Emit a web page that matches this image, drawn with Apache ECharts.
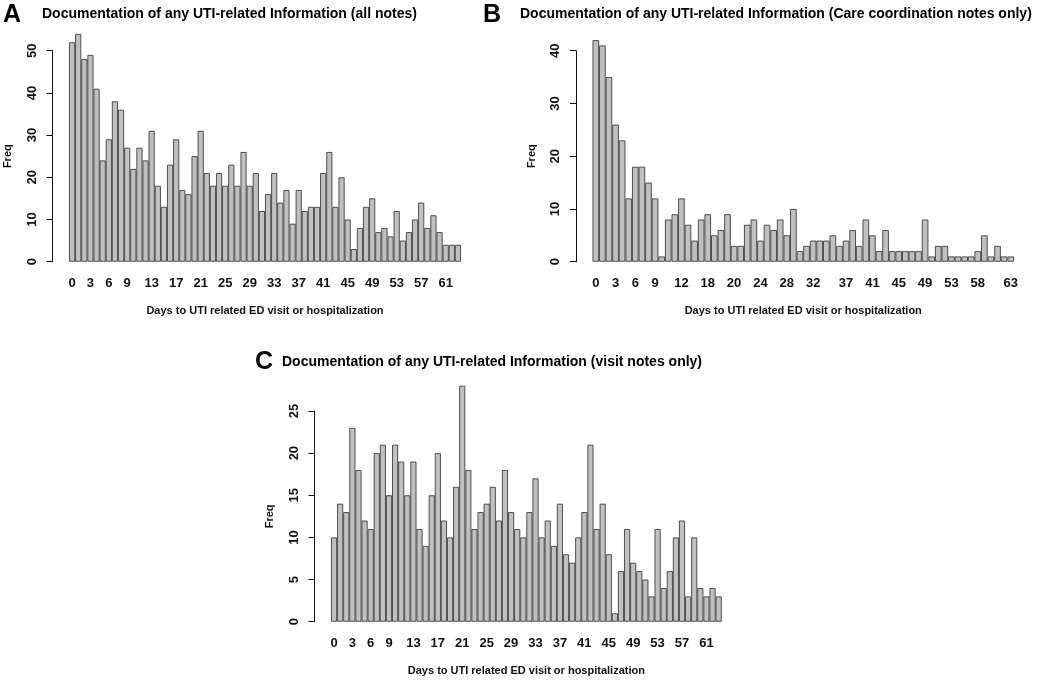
<!DOCTYPE html>
<html><head><meta charset="utf-8">
<script src="https://cdn.jsdelivr.net/npm/echarts@6/dist/echarts.min.js"></script>
<style>html,body{margin:0;padding:0;background:#fff}#c{width:1050px;height:680px}</style>
</head><body><div id="c"></div>
<script>
// ---- Data ----
// Days (x categories) for panels A and C
const daysA = ['0','1','2','3','4','5','6','7','8','9','10','11','12','13','14','15','16','17','18','19','20','21','22','23','24','25','26','27','28','29','30','31','32','33','34','35','36','37','38','39','40','41','42','43','44','45','46','47','48','49','50','51','52','53','54','55','56','57','58','59','60','61','62','63'];
const daysC = daysA.slice();
// Panel B: only the printed day labels are readable; the rest are left blank
const daysB = ['0','','','3','','','6','','','9','','','','12','','','','18','','','','20','','','','24','','','','28','','','','32','','','','','37','','','','41','','','','45','','','','49','','','','53','','','','58','','','','','63'];
// Tick labels printed under panels A and C
const tickLabelsA = ['0','3','6','9','13','17','21','25','29','33','37','41','45','49','53','57','61'];
const tickLabelsC = ['0','3','6','9','13','17','21','25','29','33','37','41','45','49','53','57','61'];

const freqA = [52,54,48,49,41,24,29,38,36,27,22,27,24,31,18,13,23,29,17,16,25,31,21,18,21,18,23,18,26,18,21,12,16,21,14,17,9,17,12,13,13,21,26,13,20,10,3,8,13,15,7,8,6,12,5,7,10,14,8,11,7,4,4,4];
const freqB = [42,41,35,26,23,12,18,18,15,12,1,8,9,12,7,4,8,9,5,6,9,3,3,7,8,4,7,6,8,5,10,2,3,4,4,4,5,3,4,6,3,8,5,2,6,2,2,2,2,2,8,1,3,3,1,1,1,1,2,5,1,3,1,1];
const freqC = [10,14,13,23,18,12,11,20,21,15,21,19,15,19,11,9,15,20,12,10,16,28,18,11,13,14,16,12,18,13,11,10,13,17,10,12,9,14,8,7,10,13,21,11,14,8,1,6,11,7,6,5,3,11,4,6,10,12,3,10,4,3,4,3];

const titles = [
  'Documentation of any UTI-related Information (all notes)',
  'Documentation of any UTI-related Information (Care coordination notes only)',
  'Documentation of any UTI-related Information (visit notes only)'
];
const letters = ['A','B','C'];
const xTitle = 'Days to UTI related ED visit or hospitalization';
const yTitle = 'Freq';

// ---- Chart ----
const FF = '"Liberation Sans", Arial, Helvetica, sans-serif';
const ink = '#111';
const chart = echarts.init(document.getElementById('c'), null, {renderer: 'canvas'});

const grids = [
  {left: 69, top: 50.7, width: 392, height: 211},
  {left: 592.5, top: 50.7, width: 421.5, height: 211},
  {left: 331, top: 411, width: 390.7, height: 210.7}
];
const yMax = [50, 40, 25];
const yInt = [10, 10, 5];
const cats = [daysA, daysB, daysC];
const ticks = [tickLabelsA, null, tickLabelsC];
const freqs = [freqA, freqB, freqC];

function xAxis(i) {
  const t = ticks[i];
  return {
    gridIndex: i, type: 'category', data: cats[i],
    boundaryGap: true,
    axisLine: {show: false}, axisTick: {show: false}, splitLine: {show: false},
    axisLabel: {
      interval: t ? function (idx, val) { return t.indexOf(val) >= 0; } : 0,
      margin: 15, fontSize: 13, fontWeight: 'bold', color: ink, fontFamily: FF
    },
    name: xTitle, nameLocation: 'middle', nameGap: 44,
    nameTextStyle: {fontSize: 11, fontWeight: 'bold', color: ink, fontFamily: FF}
  };
}
function yAxis(i) {
  return {
    gridIndex: i, type: 'value', min: 0, max: yMax[i], interval: yInt[i], offset: 16.5,
    axisLine: {show: true, lineStyle: {color: ink, width: 1}},
    axisTick: {show: true, length: 6, lineStyle: {color: ink, width: 1}},
    splitLine: {show: false},
    axisLabel: {rotate: 90, margin: 14, fontSize: 13, fontWeight: 'bold', color: ink, fontFamily: FF},
    name: yTitle, nameLocation: 'middle', nameGap: 39,
    nameTextStyle: {fontSize: 11, fontWeight: 'bold', color: ink, fontFamily: FF}
  };
}
function series(i) {
  return {
    type: 'bar', xAxisIndex: i, yAxisIndex: i, data: freqs[i],
    barWidth: '100%', barCategoryGap: '0%', clip: false, silent: true,
    itemStyle: {color: '#c0c0c0', borderColor: '#404040', borderWidth: 0.9}
  };
}

const titleBoxes = [
  {text: letters[0], left: 3, top: 3, fs: 25},
  {text: titles[0], left: 42, top: 7.3, fs: 14},
  {text: letters[1], left: 483, top: 3, fs: 25},
  {text: titles[1], left: 520, top: 7.3, fs: 14},
  {text: letters[2], left: 255, top: 350, fs: 25},
  {text: titles[2], left: 282, top: 354.7, fs: 14}
];

chart.setOption({
  animation: false,
  backgroundColor: '#fff',
  title: titleBoxes.map(t => ({
    text: t.text, left: t.left, top: t.top, padding: 0,
    textStyle: {fontSize: t.fs, fontWeight: 'bold', color: '#000', fontFamily: FF}
  })),
  grid: grids,
  xAxis: [0, 1, 2].map(xAxis),
  yAxis: [0, 1, 2].map(yAxis),
  series: [0, 1, 2].map(series)
});
</script>
</body></html>
